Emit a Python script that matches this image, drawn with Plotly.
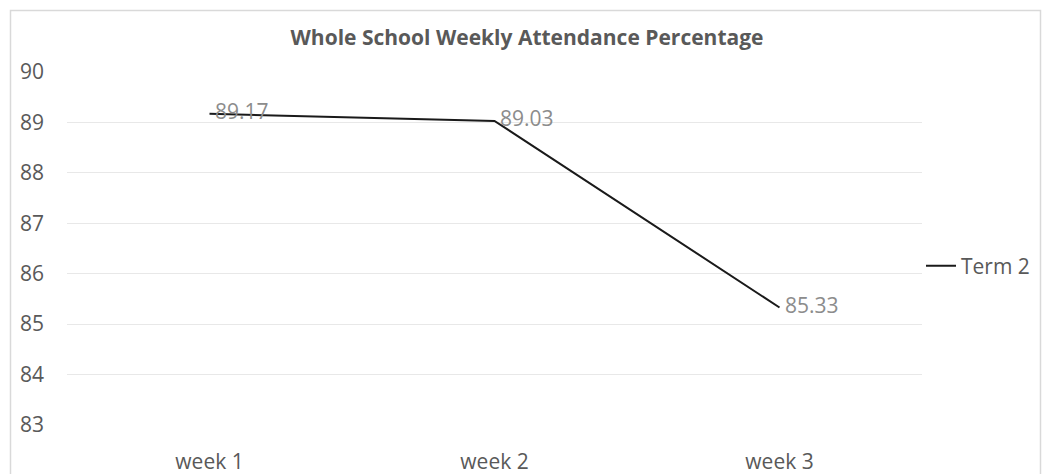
import plotly.graph_objects as go

weeks = ["week 1", "week 2", "week 3"]
term2 = [89.17, 89.03, 85.33]
y_ticks = [83, 84, 85, 86, 87, 88, 89, 90]

W, H = 1043, 474
L, R, T, B = 67, 121, 72, 49
pw, ph = W - L - R, H - T - B

def px(x):
    return (x - L) / pw

def py(y):
    return (H - B - y) / ph

FONT = "Open Sans"

fig = go.Figure()
fig.add_trace(go.Scatter(
    x=weeks, y=term2, name="Term 2", mode="lines+text",
    line=dict(color="#1a1a1a", width=2),
    text=[f" {v:.2f}" for v in term2], textposition="middle right",
    textfont=dict(family=FONT, size=21, color="#8c8c8c"),
    cliponaxis=False,
))

fig.update_layout(
    width=W, height=H,
    margin=dict(l=L, r=R, t=T, b=B, autoexpand=False),
    paper_bgcolor="white", plot_bgcolor="white",
    font=dict(family=FONT, size=21, color="#595959"),
    title=dict(text="<b>Whole School Weekly Attendance Percentage</b>",
               x=px(527), xref="paper", xanchor="center",
               y=1 - 38 / H, yref="container", yanchor="middle",
               font=dict(family=FONT, size=21, color="#595959")),
    showlegend=True,
    legend=dict(x=px(921), y=py(266), xanchor="left", yanchor="middle",
                font=dict(family=FONT, size=21, color="#595959"),
                bgcolor="rgba(0,0,0,0)", itemwidth=30),
    xaxis=dict(type="category", range=[-0.5, 2.5], showgrid=False,
               showline=False, zeroline=False, ticks="", automargin=False,
               ticklabelstandoff=22),
    yaxis=dict(range=[83, 90], tickvals=y_ticks, showgrid=True,
               gridcolor="#e8e8e8", gridwidth=1, zeroline=False, automargin=False,
               showline=False, ticks="", ticklabelstandoff=22),
    shapes=[dict(type="rect", xref="paper", yref="paper",
                 x0=px(10.5), x1=px(1040.5), y0=py(490), y1=py(10.5),
                 line=dict(color="#d9d9d9", width=1.5), fillcolor="rgba(0,0,0,0)",
                 layer="below")],
)

fig.write_html("out.html")
